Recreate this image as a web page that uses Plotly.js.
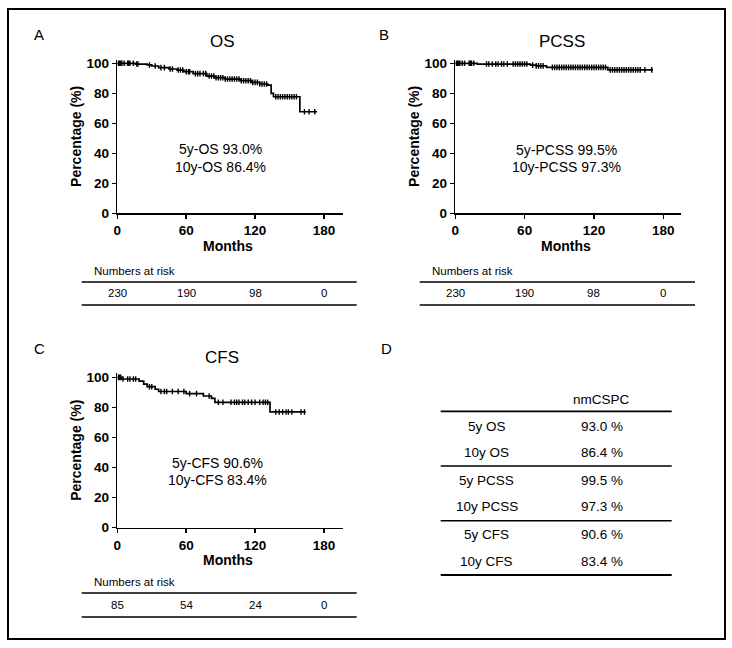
<!DOCTYPE html>
<html>
<head>
<meta charset="utf-8">
<script src="https://cdn.plot.ly/plotly-3.0.1.min.js"></script>
<style>
html,body{margin:0;padding:0;background:#fff;}
#chart{width:732px;height:648px;}
</style>
</head>
<body>
<div id="chart"></div>
<script>
// ---------- DATA ----------
const tickMonths = [0, 60, 120, 180];
const yTicks = [0, 20, 40, 60, 80, 100];

const osTimes = [0, 16, 26, 30, 36, 45, 52, 58, 66, 78, 85, 94, 107, 117, 124, 131, 134, 136, 159, 174];
const osSurv  = [100, 99.5, 98.9, 98.2, 97.1, 96.2, 95.5, 94.4, 93.1, 91.5, 90.4, 89.5, 88.4, 87.3, 86.2, 85.5, 80, 77.7, 67.7, 67.7];
const osCensor = [1,2,3,4,6,9,10,11,14,17,18,28,33,38,41,46,48,53,55,57,60,62,63,68,70,72,75,77,80,82,84,86,88,90,92,94,96,98,100,102,104,106,108,110,112,114,116,118,120,122,124,126,128,130,138,140,142,144,146,148,150,152,154,156,163,167,172];

const pcssTimes = [0, 19, 65, 70, 79, 132, 171];
const pcssSurv  = [100, 99.5, 98.8, 98.3, 97.3, 95.6, 95.6];
const pcssCensor = [1,2,3,4,6,8,12,13,14,16,27,29,32,35,37,40,42,45,50,52,54,56,58,60,62,67,70,72,74,76,84,86,88,90,92,94,96,98,100,102,104,106,108,110,112,114,116,118,120,122,124,126,128,130,134,136,138,140,142,144,146,148,150,152,154,156,158,160,164,170];

const cfsTimes = [0, 4, 19, 23, 26, 33, 36, 60, 75, 82, 85, 133, 164];
const cfsSurv  = [100, 98.9, 97.5, 95.5, 93.8, 92.1, 90.6, 89.2, 87.6, 86.0, 83.4, 77.0, 77.0];
const cfsCensor = [1,2,3,5,9,11,14,16,28,30,38,41,43,48,53,58,63,69,80,88,92,99,102,104,106,109,111,114,117,120,124,127,129,131,138,141,144,147,149,152,160,163];

const panelTitles = ["OS", "PCSS", "CFS"];
const panelLetters = ["A", "B", "C", "D"];
const line5y = ["5y-OS 93.0%", "5y-PCSS 99.5%", "5y-CFS 90.6%"];
const line10y = ["10y-OS 86.4%", "10y-PCSS 97.3%", "10y-CFS 83.4%"];
const riskOS = [230, 190, 98, 0];
const riskPCSS = [230, 190, 98, 0];
const riskCFS = [85, 54, 24, 0];

const tableHeader = "nmCSPC";
const tableLabels = ["5y OS", "10y OS", "5y PCSS", "10y PCSS", "5y CFS", "10y CFS"];
const tableValues = ["93.0 %", "86.4 %", "99.5 %", "97.3 %", "90.6 %", "83.4 %"];

// ---------- HELPERS ----------
const W = 732, H = 648;
const px = x => x / W;
const py = y => 1 - y / H;
const FONT = "'Liberation Sans', Arial, sans-serif";

function stepAt(times, surv, t) {
  let v = surv[0];
  for (let i = 0; i < times.length; i++) { if (times[i] <= t) v = surv[i]; }
  return v;
}

const traces = [];
function addCurve(times, surv, censor, xa, ya) {
  traces.push({x: times, y: surv, xaxis: xa, yaxis: ya, type: 'scatter', mode: 'lines',
    line: {shape: 'hv', color: '#000', width: 1.7}, hoverinfo: 'skip', showlegend: false});
  traces.push({x: censor, y: censor.map(t => stepAt(times, surv, t)), xaxis: xa, yaxis: ya,
    type: 'scatter', mode: 'markers',
    marker: {symbol: 'line-ns', size: 4, line: {color: '#000', width: 1.4}},
    hoverinfo: 'skip', showlegend: false});
}
addCurve(osTimes, osSurv, osCensor, 'x', 'y');
addCurve(pcssTimes, pcssSurv, pcssCensor, 'x2', 'y2');
addCurve(cfsTimes, cfsSurv, cfsCensor, 'x3', 'y3');

function xAxis(dom, range, anchor) {
  return {domain: dom, range: range, anchor: anchor, tickvals: tickMonths, ticktext: tickMonths.map(String),
    ticks: 'outside', ticklen: 4, tickwidth: 1.5, tickcolor: '#000',
    showline: true, linewidth: 1.6, linecolor: '#000', showgrid: false, zeroline: false,
    tickfont: {family: FONT, size: 13.5, color: '#000', weight: 'bold'}, fixedrange: true};
}
function yAxis(dom, range, anchor) {
  return {domain: dom, range: range, anchor: anchor, tickvals: yTicks, ticktext: yTicks.map(String),
    ticks: 'outside', ticklen: 4, tickwidth: 1.5, tickcolor: '#000',
    showline: true, linewidth: 1.6, linecolor: '#000', showgrid: false, zeroline: false,
    tickfont: {family: FONT, size: 13.5, color: '#000', weight: 'bold'}, fixedrange: true};
}

const annotations = [];
const shapes = [];
function ann(text, x, y, size, opts) {
  annotations.push(Object.assign({text: text, x: x, y: y, xref: 'paper', yref: 'paper',
    showarrow: false, xanchor: 'center', yanchor: 'middle',
    font: {family: FONT, size: size, color: '#000'}}, opts || {}));
}
function hline(x0, x1, y, w) {
  shapes.push({type: 'line', xref: 'paper', yref: 'paper', x0: px(x0), x1: px(x1), y0: py(y), y1: py(y),
    line: {color: '#000', width: w}});
}

// outer border
shapes.push({type: 'rect', xref: 'paper', yref: 'paper', x0: px(8), x1: px(725), y0: py(9), y1: py(639),
  line: {color: '#000', width: 2}});

// panel letters
ann(panelLetters[0], px(39), py(34), 15);
ann(panelLetters[1], px(384), py(34), 15);
ann(panelLetters[2], px(39), py(349), 15);
ann(panelLetters[3], px(386), py(349), 15);

// panel geometry
const panels = [
  {xa: 'x', ya: 'y', L: 117.3, R: 342.7, B: 213.3, T: 60, xr: 196.3, yr: 102.2,
   title: [222, 42], txt: [90, 42.7, 31], months: [228, 246], risk: riskOS, riskY: [271, 282, 293, 305]},
  {xa: 'x2', ya: 'y2', L: 455.3, R: 681, B: 213.3, T: 60, xr: 195.3, yr: 102.2,
   title: [562, 42], txt: [96, 42.2, 31], months: [566, 246], risk: riskPCSS, riskY: [271, 282, 293, 305]},
  {xa: 'x3', ya: 'y3', L: 117.3, R: 342.7, B: 527.7, T: 373.3, xr: 196.3, yr: 102.7,
   title: [222, 357], txt: [87, 42.8, 31.7], months: [228, 560], risk: riskCFS, riskY: [582, 593, 605, 617]},
];

const layout = {
  width: W, height: H, margin: {l: 0, r: 0, t: 0, b: 0},
  paper_bgcolor: '#fff', plot_bgcolor: 'rgba(0,0,0,0)', showlegend: false,
  font: {family: FONT, color: '#000'},
};

panels.forEach((p, i) => {
  const sx = i === 0 ? '' : String(i + 1);
  const xd = [px(p.L), px(p.R)];
  const yd = [py(p.B), py(p.T)];
  layout['xaxis' + sx] = xAxis(xd, [0, p.xr], 'y' + sx);
  layout['yaxis' + sx] = yAxis(yd, [0, p.yr], 'x' + sx);

  ann(panelTitles[i], px(p.title[0]), py(p.title[1]), 17);
  ann('Percentage (%)', px(p.L - 42), py((p.B + p.T) / 2), 14, {textangle: -90, font: {family: FONT, size: 14, color: '#000', weight: 'bold'}});
  ann('Months', px(p.months[0]), py(p.months[1]), 14, {font: {family: FONT, size: 14, color: '#000', weight: 'bold'}});
  annotations.push({text: line5y[i], x: p.txt[0], y: p.txt[1], xref: p.xa, yref: p.ya, showarrow: false,
    font: {family: FONT, size: 14, color: '#000'}});
  annotations.push({text: line10y[i], x: p.txt[0], y: p.txt[2], xref: p.xa, yref: p.ya, showarrow: false,
    font: {family: FONT, size: 14, color: '#000'}});

  ann('Numbers at risk', px(p.L - 25.6), py(p.riskY[0]), 11.5, {xanchor: 'left'});
  hline(p.L - 35.6, p.R + 14, p.riskY[1], 1.6);
  p.risk.forEach((n, k) => {
    annotations.push({text: String(n), x: tickMonths[k], y: py(p.riskY[2]), xref: p.xa, yref: 'paper',
      showarrow: false, xanchor: 'center', yanchor: 'middle', font: {family: FONT, size: 11.5, color: '#000'}});
  });
  hline(p.L - 35.6, p.R + 14, p.riskY[3], 1.6);
});

// Panel D table
const tL = 440.7, tR = 671.7, colLabel = 486.7, colVal = 601.7;
const rowY = [426, 452.7, 480, 506.7, 534.3, 561.7];
ann(tableHeader, px(colVal), py(399.3), 13.5);
hline(tL, tR, 411.3, 1.8);
hline(tL, tR, 466, 1.5);
hline(tL, tR, 520.7, 1.5);
hline(tL, tR, 575, 1.8);
tableLabels.forEach((lab, k) => {
  ann(lab, px(colLabel), py(rowY[k]), 13.5);
  ann(tableValues[k], px(colVal), py(rowY[k]), 13.5);
});

layout.annotations = annotations;
layout.shapes = shapes;

Plotly.newPlot('chart', traces, layout, {displayModeBar: false, staticPlot: true});
</script>
</body>
</html>
